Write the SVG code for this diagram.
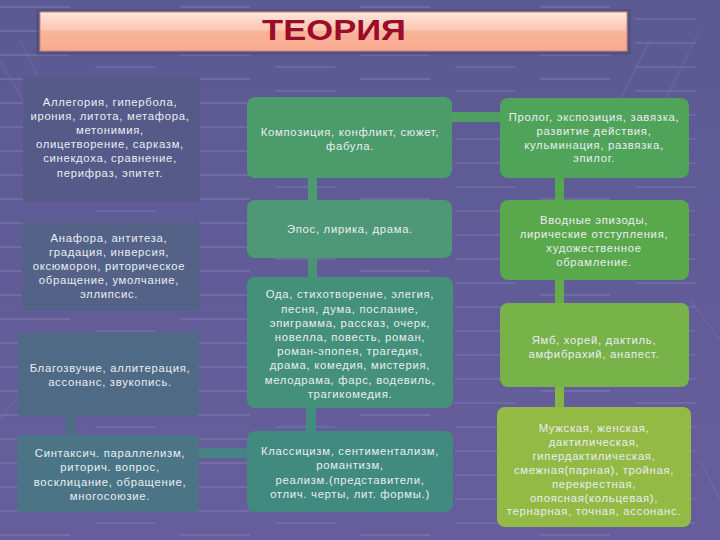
<svg xmlns="http://www.w3.org/2000/svg" width="720" height="540" viewBox="0 0 720 540">
<defs>
<linearGradient id="bg" x1="0" y1="0" x2="0" y2="1">
<stop offset="0" stop-color="#5c5a92"/>
<stop offset="1" stop-color="#665e9c"/>
</linearGradient>
<linearGradient id="tg" x1="0" y1="0" x2="0" y2="1">
<stop offset="0" stop-color="#fde6dc"/>
<stop offset="0.45" stop-color="#fbc7b2"/>
<stop offset="0.5" stop-color="#f9b49a"/>
<stop offset="1" stop-color="#f8aa8e"/>
</linearGradient>
<pattern id="streaks" x="0" y="0" width="180" height="24" patternUnits="userSpaceOnUse">
<rect x="0" y="6" width="70" height="2" fill="#8a88bb" opacity="0.35"/>
<rect x="95" y="18" width="60" height="2" fill="#8a88bb" opacity="0.3"/>
</pattern>
<style>
.t{font-family:"Liberation Sans",Arial,sans-serif;font-size:11.3px;fill:#e9edf2;text-anchor:middle;letter-spacing:0.7px}
.title{font-family:"Liberation Sans",Arial,sans-serif;font-weight:bold;font-size:30px;fill:#9c0c2a;text-anchor:middle}
.diag{stroke:#7673aa;stroke-width:2;opacity:0.35;fill:none}
</style>
</defs>
<rect width="720" height="540" fill="url(#bg)"/>
<rect width="720" height="540" fill="url(#streaks)"/>
<g class="diag">
<path d="M0 60 L40 130 M20 40 L60 120 M650 40 L610 120 M700 30 L660 110 M0 420 L30 380 M690 300 L720 340 M700 460 L720 500"/>
</g>

<g id="title">
<rect x="36" y="9" width="595" height="46" fill="#4e4c78" opacity="0.6"/>
<rect x="40" y="12" width="587" height="39" fill="url(#tg)" stroke="#c98a7a" stroke-width="1"/>
<text class="title" x="334" y="40" textLength="144" lengthAdjust="spacingAndGlyphs">ТЕОРИЯ</text>
</g>

<g id="connectors">
<rect x="66" y="414" width="9" height="23" fill="#4c6f83"/>
<rect x="197" y="448" width="52" height="10" fill="#478285"/>
<rect x="308" y="176" width="9" height="26" fill="#4d9a70"/>
<rect x="308" y="256" width="9" height="23" fill="#4a9476"/>
<rect x="306" y="406" width="10" height="28" fill="#418d7e"/>
<rect x="450" y="112" width="52" height="10" fill="#4fa060"/>
<rect x="555" y="176" width="9" height="26" fill="#55a64f"/>
<rect x="555" y="278" width="9" height="27" fill="#66ad4a"/>
<rect x="555" y="385" width="9" height="24" fill="#85b645"/>
</g>

<g id="l1">
<rect x="23" y="76" width="177" height="126" rx="3" fill="#555a88"/>
<text class="t" x="110" y="105.5">Аллегория, гипербола,</text>
<text class="t" x="110" y="119.7">ирония, литота, метафора,</text>
<text class="t" x="110" y="133.9">метонимия,</text>
<text class="t" x="110" y="148.1">олицетворение, сарказм,</text>
<text class="t" x="110" y="162.3">синекдоха, сравнение,</text>
<text class="t" x="110" y="176.5">перифраз, эпитет.</text>
</g>

<g id="l2">
<rect x="22" y="222" width="178" height="88" rx="3" fill="#546287"/>
<text class="t" x="109" y="241.5">Анафора, антитеза,</text>
<text class="t" x="109" y="255.5">градация, инверсия,</text>
<text class="t" x="109" y="269.5">оксюморон, риторическое</text>
<text class="t" x="109" y="283.5">обращение, умолчание,</text>
<text class="t" x="109" y="297.5">эллипсис.</text>
</g>

<g id="l3">
<rect x="18" y="333" width="181" height="83" rx="3" fill="#4f6a84"/>
<text class="t" x="110" y="371.5">Благозвучие, аллитерация,</text>
<text class="t" x="110" y="385.5">ассонанс, звукопись.</text>
</g>

<g id="l4">
<rect x="17" y="435" width="182" height="77" rx="3" fill="#4b7586"/>
<text class="t" x="110" y="457">Синтаксич. параллелизм,</text>
<text class="t" x="110" y="471.3">риторич. вопрос,</text>
<text class="t" x="110" y="485.6">восклицание, обращение,</text>
<text class="t" x="110" y="499.9">многосоюзие.</text>
</g>

<g id="m1">
<rect x="247" y="97" width="205" height="81" rx="8" fill="#4c9b6b"/>
<text class="t" x="350" y="135.7">Композиция, конфликт, сюжет,</text>
<text class="t" x="350" y="150">фабула.</text>
</g>

<g id="m2">
<rect x="247" y="200" width="205" height="58" rx="8" fill="#4e9877"/>
<text class="t" x="350" y="233">Эпос, лирика, драма.</text>
</g>

<g id="m3">
<rect x="247" y="277" width="206" height="131" rx="8" fill="#44907a"/>
<text class="t" x="350" y="298.3">Ода, стихотворение, элегия,</text>
<text class="t" x="350" y="312.5">песня, дума, послание,</text>
<text class="t" x="350" y="326.7">эпиграмма, рассказ, очерк,</text>
<text class="t" x="350" y="340.9">новелла, повесть, роман,</text>
<text class="t" x="350" y="355.1">роман-эпопея, трагедия,</text>
<text class="t" x="350" y="369.3">драма, комедия, мистерия,</text>
<text class="t" x="350" y="383.5">мелодрама, фарс, водевиль,</text>
<text class="t" x="350" y="397.7">трагикомедия.</text>
</g>

<g id="m4">
<rect x="247" y="431" width="206" height="81" rx="8" fill="#408a80"/>
<text class="t" x="350" y="455">Классицизм, сентиментализм,</text>
<text class="t" x="350" y="469.3">романтизм,</text>
<text class="t" x="350" y="483.6">реализм.(представители,</text>
<text class="t" x="350" y="497.9">отлич. черты, лит. формы.)</text>
</g>

<g id="r1">
<rect x="500" y="98" width="189" height="80" rx="8" fill="#50a459"/>
<text class="t" x="594" y="121">Пролог, экспозиция, завязка,</text>
<text class="t" x="594" y="134.8">развитие действия,</text>
<text class="t" x="594" y="148.6">кульминация, развязка,</text>
<text class="t" x="594" y="162.4">эпилог.</text>
</g>

<g id="r2">
<rect x="500" y="200" width="189" height="80" rx="8" fill="#5aa84c"/>
<text class="t" x="594" y="224.3">Вводные эпизоды,</text>
<text class="t" x="594" y="238.1">лирические отступления,</text>
<text class="t" x="594" y="251.9">художественное</text>
<text class="t" x="594" y="265.7">обрамление.</text>
</g>

<g id="r3">
<rect x="500" y="303" width="189" height="84" rx="8" fill="#77b349"/>
<text class="t" x="594" y="344.3">Ямб, хорей, дактиль,</text>
<text class="t" x="594" y="357.9">амфибрахий, анапест.</text>
</g>

<g id="r4">
<rect x="497" y="407" width="194" height="120" rx="8" fill="#93ba44"/>
<text class="t" x="594" y="432">Мужская, женская,</text>
<text class="t" x="594" y="445.9">дактилическая,</text>
<text class="t" x="594" y="459.8">гипердактилическая,</text>
<text class="t" x="594" y="473.7">смежная(парная), тройная,</text>
<text class="t" x="594" y="487.6">перекрестная,</text>
<text class="t" x="594" y="501.5">опоясная(кольцевая),</text>
<text class="t" x="594" y="515.4">тернарная, точная, ассонанс.</text>
</g>
</svg>
